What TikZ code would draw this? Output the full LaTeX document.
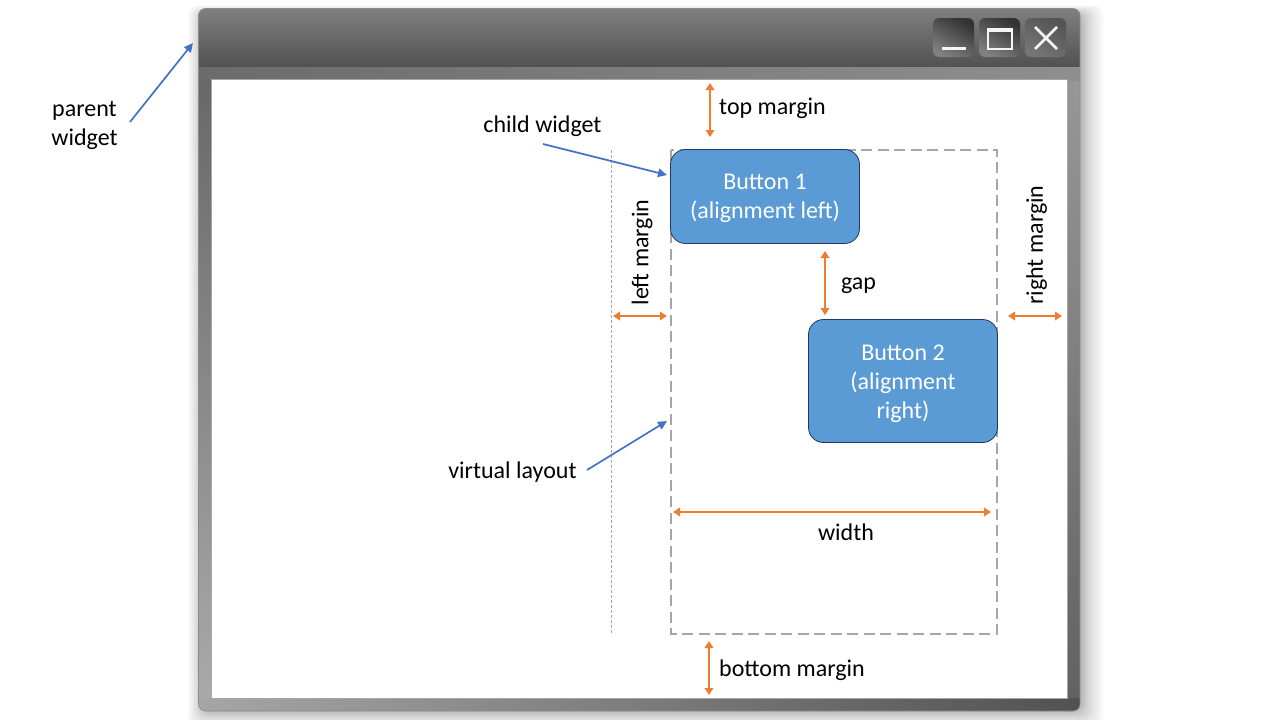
\documentclass[tikz,border=0pt]{standalone}
\usepackage{fontspec}
\setmainfont{Carlito}
\usetikzlibrary{arrows.meta}
\definecolor{orangeA}{HTML}{ED7D31}
\definecolor{blueA}{HTML}{4472C4}
\definecolor{btnfill}{HTML}{5B9BD5}
\definecolor{btnline}{HTML}{1F3864}
\definecolor{ctlDark}{gray}{0.2}
\definecolor{ctlLight}{gray}{0.5}
\definecolor{ctlDarkB}{gray}{0.33}
\definecolor{ctlLightB}{gray}{0.46}
\tikzset{
  x=1pt,y=-1pt,
  dim/.style={draw=orangeA,line width=1.9pt,{Triangle[length=7pt,width=8.5pt]}-{Triangle[length=7pt,width=8.5pt]}},
  callout/.style={draw=blueA,line width=1.7pt,-{Triangle[length=9pt,width=8.5pt]}},
  lbl/.style={font=\fontsize{24}{29}\selectfont,text=black,inner sep=0pt,align=center},
  btn/.style={draw=btnline,line width=0.8pt,fill=btnfill,rounded corners=15pt,inner sep=0pt},
  btntext/.style={text=white,font=\fontsize{24}{29}\selectfont,align=center,inner sep=0pt},
  ctl/.style={rounded corners=6pt,left color=ctlDark,right color=ctlLight,shading angle=-30},
  ctlB/.style={rounded corners=6pt,left color=ctlDarkB,right color=ctlLightB,shading angle=-30},
  glyph/.style={draw=white!92!gray,line width=2.6pt},
}
\begin{document}
\begin{tikzpicture}
\useasboundingbox (0,0) rectangle (1280,720);
\fill[white] (0,0) rectangle (1280,720);
% soft shadow
\foreach \i in {0,...,27}{
  \fill[black,opacity=0.014,rounded corners=10pt] (205-\i*\i*0.024,14-\i*\i*0.012) rectangle (1078+\i*\i*0.036,708+\i*\i*0.03);
}
% frame
\begin{scope}
\clip[rounded corners=7pt] (198.5,8.5) rectangle (1080,711);
\shade[top color=black!60,bottom color=black!33] (198.5,60) rectangle (212,711);
\shade[top color=black!40,bottom color=black!62] (1067,60) rectangle (1080,711);
\shade[left color=black!35,right color=black!68] (198.5,698) rectangle (1080,711);
\shade[left color=black!58,right color=black!44] (198.5,66.5) rectangle (1080,80);
\shade[top color=black!50,bottom color=black!68] (198.5,8.5) rectangle (1080,66.5);
\end{scope}
\draw[black!45,line width=0.6pt,rounded corners=7pt] (198.5,8.5) rectangle (1080,711);
\node[fill=white,draw=black!35,line width=0.5pt,minimum width=856pt,minimum height=618.5pt,inner sep=0pt] (client) at (639.5,388.75) {};
% window controls
\shade[ctl] (933,18) rectangle (974,57);
\shade[ctl] (979,18) rectangle (1020,57);
\shade[ctlB] (1025,18) rectangle (1066,57);
\coordinate (minL) at (942,48.5); \coordinate (minR) at (966,48.5);
\draw[glyph,line width=3.5pt] (minL) -- (minR);
\draw[white!92!gray,line width=2.5pt] (988,29) rectangle (1012,49);
\draw[white!92!gray,line width=3.5pt] (988,30) -- (1012,30);
\coordinate (xA) at (1035,27); \coordinate (xB) at (1057,49);
\coordinate (xC) at (1057,27); \coordinate (xD) at (1035,49);
\draw[glyph] (xA) -- (xB); \draw[glyph] (xC) -- (xD);
% virtual layout
\draw[black!35,line width=0.6pt,dash pattern=on 3pt off 2pt] (611.5,150) -- (611.5,635);
\draw[black!35,line width=2pt,dash pattern=on 11pt off 5.5pt] (671,149.5) rectangle (997,633.5);
% buttons
\node[btn,minimum width=189pt,minimum height=94pt] (b1) at (765,196.5) {};
\node[btntext] (b1text) at (765,198.5) {Button 1\\(alignment left)};
\node[btn,minimum width=189pt,minimum height=123pt] (b2) at (903,381) {};
\node[btntext] (b2text) at (903,383.5) {Button 2\\(alignment\\right)};
% labels
\node[lbl] (parent) at (84.5,125) {parent\\widget};
\node[lbl] (child) at (542.5,126.5) {child widget};
\node[lbl] (virtual) at (512.5,472) {virtual layout};
\node[lbl,anchor=west] (top) at (719,108) {top margin};
\node[lbl,anchor=west] (bottom) at (719,670) {bottom margin};
\node[lbl,rotate=90] (left) at (642,252.5) {left margin};
\node[lbl,rotate=90] (right) at (1036.5,245) {right margin};
\node[lbl] (gap) at (858.5,286) {gap};
\node[lbl] (width) at (846,532) {width};
% coordinates
\coordinate (pA) at (130,122); \coordinate (pB) at (193,43);
\coordinate (cA) at (543,144); \coordinate (cB) at (667,175);
\coordinate (vA) at (587,470); \coordinate (vB) at (667,421);
\draw[callout] (pA) -- (pB);
\draw[callout] (cA) -- (cB);
\draw[callout] (vA) -- (vB);
\coordinate (t1) at (710,83); \coordinate (t2) at (710,137);
\coordinate (m1) at (709,641); \coordinate (m2) at (709,695);
\coordinate (l1) at (613,316); \coordinate (l2) at (667,316);
\coordinate (r1) at (1008,316); \coordinate (r2) at (1062,316);
\coordinate (g1) at (825,251); \coordinate (g2) at (825,315);
\coordinate (w1) at (673,512); \coordinate (w2) at (991,512);
\draw[dim] (t1) -- (t2);
\draw[dim] (m1) -- (m2);
\draw[dim] (l1) -- (l2);
\draw[dim] (r1) -- (r2);
\draw[dim] (g1) -- (g2);
\draw[dim] (w1) -- (w2);
\end{tikzpicture}
\end{document}
